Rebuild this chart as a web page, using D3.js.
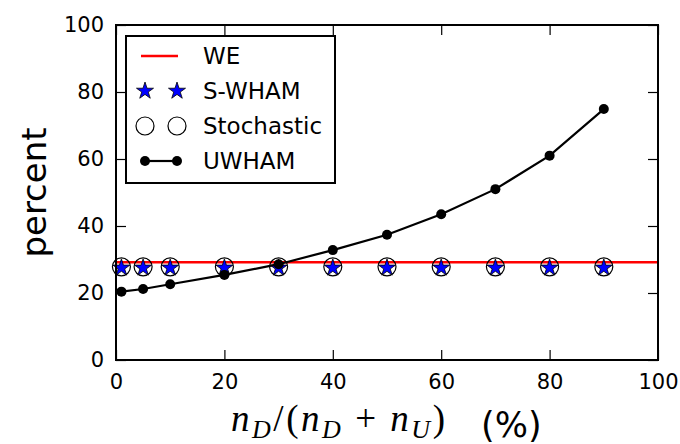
<!DOCTYPE html>
<html>
<head>
<meta charset="utf-8">
<script src="https://cdn.jsdelivr.net/npm/d3@7"></script>
<style>
  body { margin: 0; background: white; }
  svg { display: block; }
  text { font-family: 'DejaVu Sans'; }
</style>
</head>
<body>
<div id="chart"></div>
<script>
const fractions = [1, 5, 10, 20, 30, 40, 50, 60, 70, 80, 90]
const weValue = 29.2
const swham = [27.8, 27.8, 27.8, 27.8, 27.8, 27.8, 27.8, 27.8, 27.8, 27.8, 27.8]
const stochastic = [27.8, 27.8, 27.8, 27.8, 27.8, 27.8, 27.8, 27.8, 27.8, 27.8, 27.8]
const uwham = [20.4, 21.2, 22.6, 25.4, 28.6, 32.8, 37.4, 43.5, 51.0, 61.0, 74.9]
const xTicks = [0, 20, 40, 60, 80, 100]
const yTicks = [0, 20, 40, 60, 80, 100]
const legendLabels = ['WE', 'S-WHAM', 'Stochastic', 'UWHAM']

const width = 680
const height = 444
const margin = { top: 25, right: 22, bottom: 84, left: 116 }

const svg = d3.select('#chart').append('svg')
  .attr('width', width)
  .attr('height', height)

const x = d3.scaleLinear().domain([0, 100]).range([margin.left, width - margin.right])
const y = d3.scaleLinear().domain([0, 100]).range([height - margin.bottom, margin.top])

const tick = 10

// axes, ticks pointing in on all four sides
const axisStyle = g => {
  g.select('.domain').remove()
  g.attr('font-family', null).attr('font-size', null)
  g.selectAll('line').attr('stroke', '#000').attr('stroke-width', 1.2)
  g.selectAll('text').attr('fill', '#000').style('font-size', '21px')
}

svg.append('g')
  .attr('transform', `translate(0,${y(0)})`)
  .call(d3.axisBottom(x).tickValues(xTicks).tickSizeInner(-tick).tickSizeOuter(0).tickPadding(14))
  .call(axisStyle)

svg.append('g')
  .attr('transform', `translate(0,${y(100)})`)
  .call(d3.axisTop(x).tickValues(xTicks).tickSizeInner(-tick).tickSizeOuter(0).tickFormat(''))
  .call(axisStyle)

svg.append('g')
  .attr('transform', `translate(${x(0)},0)`)
  .call(d3.axisLeft(y).tickValues(yTicks).tickSizeInner(-tick).tickSizeOuter(0).tickPadding(12))
  .call(axisStyle)

svg.append('g')
  .attr('transform', `translate(${x(100)},0)`)
  .call(d3.axisRight(y).tickValues(yTicks).tickSizeInner(-tick).tickSizeOuter(0).tickFormat(''))
  .call(axisStyle)

const plot = svg.append('g')

// WE reference line
plot.append('line')
  .attr('x1', x(0)).attr('x2', x(100))
  .attr('y1', y(weValue)).attr('y2', y(weValue))
  .attr('stroke', '#ff0000')
  .attr('stroke-width', 2.5)

const star = d3.symbol().type(d3.symbolStar).size(90)

// Stochastic: open circles
plot.append('g')
  .selectAll('circle')
  .data(fractions.map((f, i) => [f, stochastic[i]]))
  .join('circle')
    .attr('cx', d => x(d[0]))
    .attr('cy', d => y(d[1]))
    .attr('r', 9)
    .attr('fill', 'none')
    .attr('stroke', '#000')
    .attr('stroke-width', 1.2)

// S-WHAM: blue stars
plot.append('g')
  .selectAll('path')
  .data(fractions.map((f, i) => [f, swham[i]]))
  .join('path')
    .attr('d', star)
    .attr('transform', d => `translate(${x(d[0])},${y(d[1]) + 1})`)
    .attr('fill', '#0000ff')
    .attr('stroke', '#000')
    .attr('stroke-width', 0.8)

// UWHAM line and dots
const uData = fractions.map((f, i) => [f, uwham[i]])
plot.append('path')
  .datum(uData)
  .attr('d', d3.line().x(d => x(d[0])).y(d => y(d[1])))
  .attr('fill', 'none')
  .attr('stroke', '#000')
  .attr('stroke-width', 2.2)

plot.append('g')
  .selectAll('circle')
  .data(uData)
  .join('circle')
    .attr('cx', d => x(d[0]))
    .attr('cy', d => y(d[1]))
    .attr('r', 5)
    .attr('fill', '#000')

// frame
svg.append('rect')
  .attr('x', x(0)).attr('y', y(100))
  .attr('width', x(100) - x(0)).attr('height', y(0) - y(100))
  .attr('fill', 'none')
  .attr('stroke', '#000')
  .attr('stroke-width', 2)

// legend
const legend = svg.append('g').attr('transform', 'translate(126,36)')
legend.append('rect')
  .attr('width', 209).attr('height', 147)
  .attr('fill', 'white')
  .attr('stroke', '#000')
  .attr('stroke-width', 2)

const rowY = i => 20 + i * 35
const m1 = 19, m2 = 51

legend.append('line')
  .attr('x1', 15).attr('x2', 52)
  .attr('y1', rowY(0)).attr('y2', rowY(0))
  .attr('stroke', '#ff0000').attr('stroke-width', 2.5)

;[m1, m2].forEach(mx => {
  legend.append('path')
    .attr('d', star)
    .attr('transform', `translate(${mx},${rowY(1)})`)
    .attr('fill', '#0000ff').attr('stroke', '#000').attr('stroke-width', 0.8)
  legend.append('circle')
    .attr('cx', mx).attr('cy', rowY(2)).attr('r', 9)
    .attr('fill', 'white').attr('stroke', '#000').attr('stroke-width', 1.2)
  legend.append('circle')
    .attr('cx', mx).attr('cy', rowY(3)).attr('r', 5)
    .attr('fill', '#000')
})
legend.append('line')
  .attr('x1', m1).attr('x2', m2)
  .attr('y1', rowY(3)).attr('y2', rowY(3))
  .attr('stroke', '#000').attr('stroke-width', 2.2)

legend.selectAll('text.lab')
  .data(legendLabels)
  .join('text')
    .attr('class', 'lab')
    .attr('x', 77)
    .attr('y', (d, i) => rowY(i))
    .attr('dy', '0.36em')
    .style('font-size', '23px')
    .text(d => d)

// axis labels
svg.append('text')
  .attr('transform', `translate(46,${(y(0) + y(100)) / 2}) rotate(-90)`)
  .attr('text-anchor', 'middle')
  .style('font-size', '34px')
  .text('percent')

const xl = svg.append('text')
  .attr('x', 231)
  .attr('y', 431)
  .attr('textLength', 214)
  .attr('lengthAdjust', 'spacing')
  .style('font-family', 'Liberation Serif')
  .style('font-size', '37px')
const part = (t, italic, sub) => {
  const s = xl.append('tspan').text(t)
  if (italic) s.style('font-style', 'italic')
  if (sub) s.style('font-size', '26px').attr('dy', sub)
  return s
}
part('n', true)
part('D', true, 7)
part('/(', false).attr('dy', -7)
part('n', true)
part('D', true, 7)
part(' + ', false).attr('dy', -7)
part('n', true)
part('U', true, 7)
part(')', false).attr('dy', -7)

svg.append('text')
  .attr('x', 481)
  .attr('y', 437)
  .style('font-size', '35px')
  .text('(%)')
</script>
</body>
</html>
